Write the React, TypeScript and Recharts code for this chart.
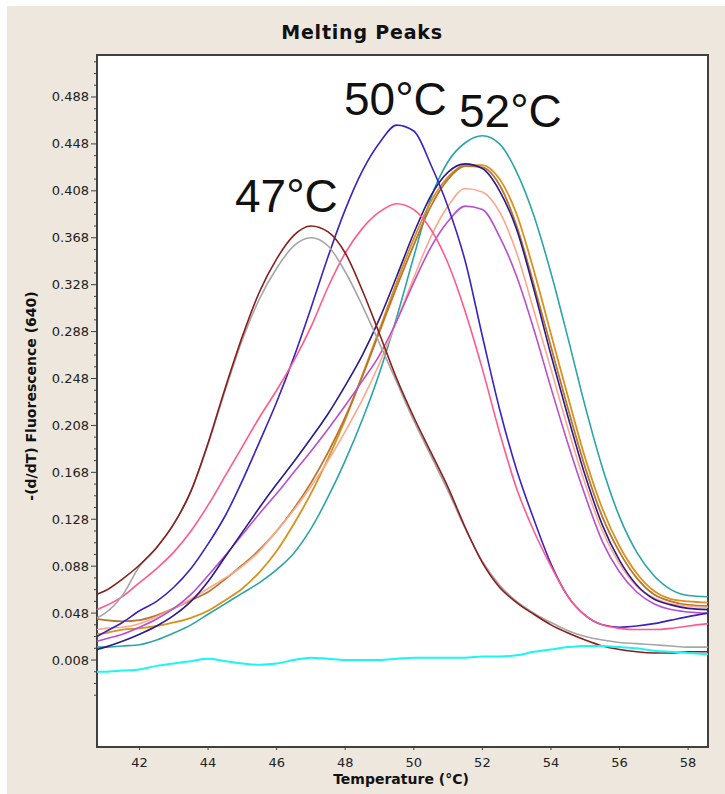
import { LineChart, Line, XAxis, YAxis } from "recharts";

// temperature samples (°C)
const TEMPS = [40.76, 41, 41.5, 42, 42.5, 43, 43.5, 44, 44.5, 45, 45.5, 46, 46.5, 47, 47.5, 48, 48.5, 49, 49.5, 50, 50.5, 51, 51.5, 52, 52.5, 53, 53.5, 54, 54.5, 55, 55.5, 56, 56.5, 57, 57.5, 58, 58.58];

// -(d/dT) fluorescence, one array per sample
const DARK_RED = [0.064, 0.067, 0.077, 0.089, 0.104, 0.124, 0.152, 0.193, 0.240, 0.284, 0.322, 0.350, 0.370, 0.378, 0.373, 0.355, 0.323, 0.286, 0.248, 0.215, 0.185, 0.155, 0.121, 0.091, 0.070, 0.057, 0.047, 0.038, 0.031, 0.025, 0.020, 0.017, 0.015, 0.014, 0.014, 0.015, 0.015];
const GRAY = [0.044, 0.048, 0.063, 0.088, 0.104, 0.124, 0.152, 0.192, 0.238, 0.281, 0.316, 0.342, 0.361, 0.368, 0.361, 0.339, 0.310, 0.278, 0.245, 0.212, 0.182, 0.152, 0.120, 0.092, 0.072, 0.058, 0.048, 0.040, 0.033, 0.028, 0.025, 0.023, 0.022, 0.021, 0.020, 0.019, 0.019];
const PINK = [0.051, 0.054, 0.062, 0.074, 0.086, 0.100, 0.118, 0.140, 0.165, 0.190, 0.215, 0.238, 0.263, 0.292, 0.326, 0.355, 0.376, 0.390, 0.397, 0.392, 0.375, 0.346, 0.305, 0.256, 0.202, 0.154, 0.118, 0.088, 0.062, 0.046, 0.038, 0.035, 0.034, 0.034, 0.035, 0.037, 0.039];
const INDIGO = [0.028, 0.032, 0.040, 0.050, 0.058, 0.070, 0.086, 0.107, 0.131, 0.161, 0.194, 0.228, 0.266, 0.308, 0.352, 0.392, 0.425, 0.449, 0.464, 0.459, 0.430, 0.394, 0.348, 0.284, 0.222, 0.170, 0.128, 0.090, 0.062, 0.046, 0.038, 0.036, 0.037, 0.039, 0.042, 0.045, 0.048];
const TEAL = [0.019, 0.019, 0.020, 0.021, 0.025, 0.031, 0.038, 0.047, 0.056, 0.065, 0.074, 0.085, 0.099, 0.120, 0.147, 0.178, 0.213, 0.253, 0.300, 0.352, 0.402, 0.433, 0.449, 0.455, 0.448, 0.424, 0.387, 0.338, 0.282, 0.224, 0.172, 0.130, 0.100, 0.080, 0.068, 0.063, 0.062];
const ORANGE = [0.030, 0.031, 0.034, 0.035, 0.037, 0.040, 0.044, 0.050, 0.059, 0.069, 0.083, 0.101, 0.124, 0.150, 0.180, 0.213, 0.251, 0.290, 0.330, 0.367, 0.399, 0.420, 0.430, 0.430, 0.418, 0.388, 0.340, 0.286, 0.232, 0.180, 0.137, 0.105, 0.082, 0.067, 0.060, 0.058, 0.057];
const BROWN = [0.043, 0.042, 0.041, 0.042, 0.046, 0.052, 0.059, 0.066, 0.077, 0.089, 0.102, 0.118, 0.137, 0.159, 0.185, 0.215, 0.250, 0.288, 0.326, 0.362, 0.395, 0.418, 0.429, 0.428, 0.413, 0.378, 0.328, 0.275, 0.222, 0.172, 0.130, 0.100, 0.078, 0.064, 0.058, 0.055, 0.054];
const SALMON = [0.034, 0.035, 0.036, 0.039, 0.045, 0.052, 0.060, 0.069, 0.078, 0.088, 0.101, 0.118, 0.136, 0.156, 0.178, 0.203, 0.230, 0.261, 0.297, 0.334, 0.369, 0.395, 0.410, 0.407, 0.390, 0.355, 0.306, 0.256, 0.205, 0.158, 0.118, 0.090, 0.071, 0.061, 0.056, 0.054, 0.053];
const MAGENTA = [0.024, 0.026, 0.030, 0.036, 0.043, 0.052, 0.064, 0.080, 0.097, 0.115, 0.133, 0.150, 0.168, 0.186, 0.205, 0.225, 0.246, 0.268, 0.297, 0.330, 0.360, 0.382, 0.395, 0.392, 0.369, 0.335, 0.290, 0.240, 0.192, 0.148, 0.109, 0.083, 0.066, 0.056, 0.051, 0.049, 0.048];
const NAVY = [0.017, 0.019, 0.024, 0.030, 0.037, 0.046, 0.058, 0.075, 0.096, 0.117, 0.138, 0.158, 0.177, 0.197, 0.218, 0.242, 0.268, 0.299, 0.335, 0.372, 0.404, 0.424, 0.431, 0.427, 0.408, 0.375, 0.324, 0.268, 0.215, 0.165, 0.123, 0.093, 0.072, 0.060, 0.055, 0.052, 0.051];
const CYAN = [-0.002, -0.002, -0.001, 0.000, 0.003, 0.005, 0.007, 0.009, 0.007, 0.005, 0.004, 0.005, 0.008, 0.010, 0.009, 0.008, 0.008, 0.008, 0.009, 0.010, 0.010, 0.010, 0.010, 0.011, 0.011, 0.012, 0.015, 0.017, 0.019, 0.020, 0.020, 0.019, 0.018, 0.016, 0.015, 0.014, 0.013];

const X_TICKS = [42, 44, 46, 48, 50, 52, 54, 56, 58];
const Y_MAJOR = [0.008, 0.048, 0.088, 0.128, 0.168, 0.208, 0.248, 0.288, 0.328, 0.368, 0.408, 0.448, 0.488];

const PEAK_LABELS = [
  { text: "47°C", x: 235, y: 212 },
  { text: "50°C", x: 344, y: 115 },
  { text: "52°C", x: 459, y: 127 },
];

const SERIES = [
  { key: "teal", values: TEAL, color: "#2aa5a5", width: 1.6 },
  { key: "orange", values: ORANGE, color: "#d9921e", width: 1.8 },
  { key: "brown", values: BROWN, color: "#b8762e", width: 1.8 },
  { key: "salmon", values: SALMON, color: "#ffa78c", width: 1.6 },
  { key: "magenta", values: MAGENTA, color: "#b94ecf", width: 1.6 },
  { key: "navy", values: NAVY, color: "#2b1a8e", width: 1.6 },
  { key: "indigo", values: INDIGO, color: "#3b22c2", width: 1.6 },
  { key: "pink", values: PINK, color: "#ff5a8c", width: 1.6 },
  { key: "gray", values: GRAY, color: "#a6a6a6", width: 1.6 },
  { key: "darkRed", values: DARK_RED, color: "#8b1c1c", width: 1.6 },
  { key: "cyan", values: CYAN, color: "#1af5f5", width: 2 },
];

const rows = TEMPS.map((t, i) => {
  const row: any = { t };
  SERIES.forEach((s) => (row[s.key] = s.values[i]));
  return row;
});

// minor ticks every 0.01 between the labelled ones
const yTicks: number[] = [-0.022, -0.012, -0.002];
Y_MAJOR.forEach((m) => yTicks.push(m, m + 0.01, m + 0.02, m + 0.03));

const FONT = "'DejaVu Sans', Verdana, sans-serif";

function YTick({ x, y, payload }: any) {
  const major = Y_MAJOR.some((m) => Math.abs(m - payload.value) < 1e-6);
  return (
    <g>
      <line x1={x - (major ? 6 : 3)} x2={x} y1={y} y2={y} stroke="#404040" />
      {major && (
        <text x={x - 8} y={y} dy={4.5} textAnchor="end" fontSize={13} fontFamily={FONT} fill="#222">
          {payload.value.toFixed(3)}
        </text>
      )}
    </g>
  );
}

function XTick({ x, y, payload }: any) {
  return (
    <g>
      <line x1={x} x2={x} y1={y} y2={y + 4} stroke="#404040" />
      <text x={x} y={y + 21} textAnchor="middle" fontSize={13} fontFamily={FONT} fill="#222">
        {payload.value}
      </text>
    </g>
  );
}

export default function App() {
  return (
    <div style={{ position: "absolute", left: 0, top: 0, width: 725, height: 794, background: "#fff", overflow: "hidden" }}>
      <div style={{ position: "absolute", left: 7, top: 6, width: 718, height: 788, background: "#ede7de" }} />
      <div
        style={{
          position: "absolute",
          left: 96,
          top: 54,
          width: 613,
          height: 694,
          background: "#fff",
          border: "2px solid #404040",
          boxSizing: "border-box",
        }}
      />
      <div style={{ position: "absolute", left: 0, top: 0 }}>
        <LineChart width={725} height={794} data={rows} margin={{ top: 55, right: 17, bottom: 0, left: 0 }}>
          <XAxis
            dataKey="t"
            type="number"
            domain={[40.76, 58.58]}
            ticks={X_TICKS}
            interval={0}
            height={48}
            axisLine={false}
            tickLine={false}
            tickSize={0}
            tickMargin={0}
            tick={<XTick />}
          />
          <YAxis
            type="number"
            domain={[-0.0653, 0.5238]}
            ticks={yTicks}
            interval={0}
            width={97}
            axisLine={false}
            tickLine={false}
            tickSize={0}
            tickMargin={0}
            tick={<YTick />}
            allowDataOverflow
          />
          {SERIES.map((s) => (
            <Line
              key={s.key}
              type="monotone"
              dataKey={s.key}
              stroke={s.color}
              strokeWidth={s.width}
              dot={false}
              activeDot={false}
              isAnimationActive={false}
            />
          ))}
        </LineChart>
      </div>
      <svg width={725} height={794} style={{ position: "absolute", left: 0, top: 0, pointerEvents: "none" }}>
        <text x={362} y={39} textAnchor="middle" fontSize={19} fontWeight="bold" letterSpacing={0.8} fontFamily={FONT} fill="#111">
          Melting Peaks
        </text>
        <text x={401} y={784} textAnchor="middle" fontSize={14} fontWeight="bold" fontFamily={FONT} fill="#111">
          Temperature (°C)
        </text>
        <text
          x={0}
          y={0}
          transform="translate(36 396) rotate(-90)"
          textAnchor="middle"
          fontSize={14}
          fontWeight="bold"
          fontFamily={FONT}
          fill="#111"
        >
          -(d/dT) Fluorescence (640)
        </text>
        {PEAK_LABELS.map((p) => (
          <text key={p.text} x={p.x} y={p.y} fontSize={46} fontFamily="'Liberation Sans', Arial, sans-serif" fill="#111">
            {p.text}
          </text>
        ))}
      </svg>
    </div>
  );
}
